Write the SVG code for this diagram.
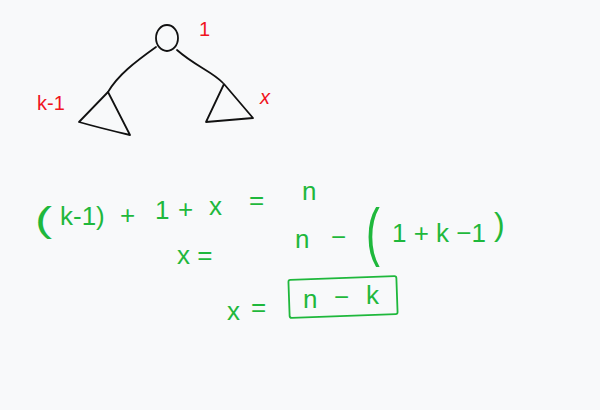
<svg xmlns="http://www.w3.org/2000/svg" width="600" height="410" viewBox="0 0 600 410">
<style>
.ink{fill:none;stroke:#111;stroke-width:1.8;stroke-linecap:round;stroke-linejoin:round}
.red{fill:#f0141e;font-family:"Liberation Sans",Arial,sans-serif;font-size:20px}
.g{fill:#1fb83c;font-family:"Liberation Sans",Arial,sans-serif;font-size:26px}
.gp{fill:#1fb83c;font-family:"Liberation Sans",Arial,sans-serif;font-size:32px}
.box{fill:none;stroke:#1fb83c;stroke-width:1.8}
</style>
<rect width="600" height="410" fill="#f8f9fa"/>
<g id="connectors">
<path class="ink" d="M156,47 C135,62 118,75 108,92"/>
<path class="ink" d="M177,50 C195,66 213,72 223,83"/>
</g>
<g id="root">
<ellipse class="ink" cx="167" cy="38" rx="11" ry="13"/>
<text class="red" x="199" y="36">1</text>
</g>
<g id="left">
<path class="ink" d="M108,92 L79,122 Q100,128 130,135 Z"/>
<text class="red" x="37" y="110">k-1</text>
</g>
<g id="right">
<path class="ink" d="M224,84 L206,122 L253,118 Z"/>
<text class="red" x="260" y="104" font-style="italic">x</text>
</g>
<g id="equations">
<text class="gp" transform="translate(35,232) scale(1.6,1.12)">(</text>
<text class="g" x="60" y="225">k-1)</text>
<text class="g" x="120" y="224">+</text>
<text class="g" x="155" y="219">1</text>
<text class="g" x="178" y="218">+</text>
<text class="g" x="209" y="215">x</text>
<text class="g" x="249" y="209">=</text>
<text class="g" x="302" y="200" font-size="30">n</text>
<text class="g" x="177" y="264">x =</text>
<text class="g" x="295" y="248">n</text>
<text class="g" x="331" y="246">−</text>
<text class="gp" transform="translate(366,254) scale(1.3,2)">(</text>
<text class="g" x="392" y="242">1 + k −1</text>
<text class="gp" x="494" y="235">)</text>
<text class="g" x="227" y="320">x</text>
<text class="g" x="251" y="316">=</text>
<rect class="box" x="289" y="278" width="108" height="38" rx="2" transform="rotate(-2 343 297)"/>
<text class="g" x="303" y="308">n</text>
<text class="g" x="334" y="306">−</text>
<text class="g" x="366" y="304">k</text>
</g>
</svg>
